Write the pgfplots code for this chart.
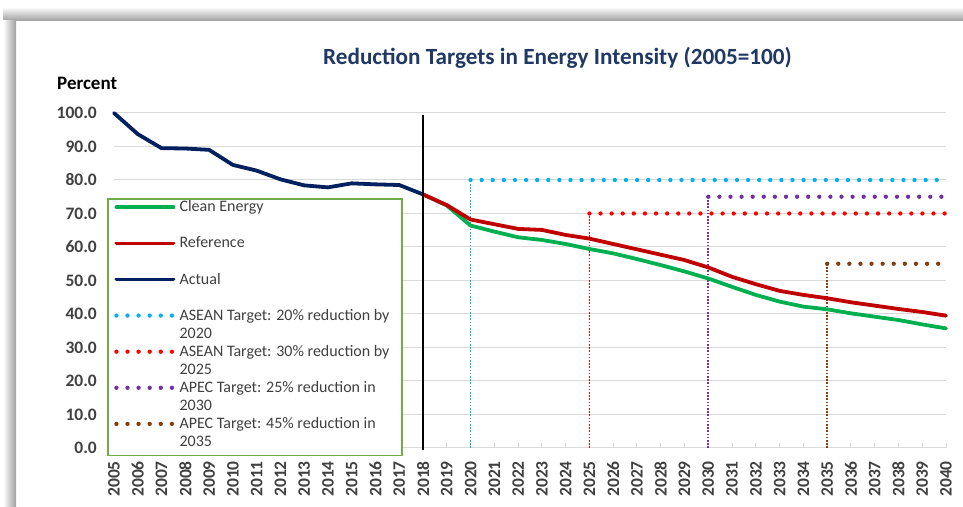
\documentclass[border=0pt]{standalone}
\usepackage{pgfplots}
\pgfplotsset{compat=1.18}
\usepackage{fontspec}
\setmainfont{Carlito}
\definecolor{cgreen}{HTML}{00B050}
\definecolor{cred}{HTML}{C00000}
\definecolor{cnavy}{HTML}{002060}
\definecolor{cblue}{HTML}{00B0F0}
\definecolor{cdred}{HTML}{FF0000}
\definecolor{cpurple}{HTML}{7030A0}
\definecolor{cbrown}{HTML}{843C0C}
\definecolor{cgrid}{HTML}{D9D9D9}
\definecolor{ctxt}{HTML}{404040}
\definecolor{cttl}{HTML}{1F3864}
\definecolor{clgb}{HTML}{70AD47}
\tikzset{
 mainline/.style={line width=3.8bp, line join=round, line cap=round},
 tgt/.style={line width=4.3bp, line cap=round, dash pattern=on 0bp off 11.1bp},
 vtgt/.style={line width=1.6bp, dash pattern=on 1.6bp off 1.6bp},
}
\newcommand{\lent}[2]{\parbox[t]{216bp}{\mbox{#1}\\\mbox{#2}}}
\pgfplotstableread{
year actual
2005 100.0
2006 93.7
2007 89.5
2008 89.4
2009 89.0
2010 84.5
2011 82.8
2012 80.2
2013 78.4
2014 77.8
2015 79.0
2016 78.7
2017 78.5
2018 75.7
}\actual
\pgfplotstableread{
year ref clean
2018 75.7 75.7
2019 72.5 72.4
2020 68.2 66.4
2021 66.8 64.6
2022 65.4 62.9
2023 65.1 62.1
2024 63.6 60.9
2025 62.5 59.4
2026 60.9 58.1
2027 59.3 56.4
2028 57.7 54.6
2029 56.1 52.7
2030 53.9 50.6
2031 51.1 48.1
2032 48.9 45.7
2033 46.9 43.7
2034 45.7 42.2
2035 44.7 41.4
2036 43.5 40.2
2037 42.5 39.2
2038 41.5 38.2
2039 40.6 36.9
2040 39.5 35.7
}\proj
\begin{document}
\begin{tikzpicture}
\useasboundingbox (0,0) rectangle (963bp,507bp);
\shade[top color=white, bottom color=black!38] (3bp,486bp) rectangle (963bp,500bp);
\shade[left color=white, right color=black!38] (3bp,0bp) rectangle (16bp,486bp);
\begin{axis}[
  at={(114bp,59bp)}, anchor=south west,
  scale only axis, width=832bp, height=335bp,
  xmin=2005, xmax=2040, ymin=0, ymax=100,
  xtick={2005,2006,...,2040}, ytick={0,10,...,100},
  axis x line*=bottom, axis y line*=left,
  x axis line style={-, draw=cgrid, line width=1bp},
  y axis line style={draw=none},
  ymajorgrids, major grid style={draw=cgrid, line width=1bp},
  ytick style={draw=none},
  xtick style={draw=cgrid, line width=1bp},
  tick align=inside, major tick length=5bp,
  /pgf/number format/assume math mode=true,
  yticklabel={\pgfmathprintnumber[fixed,fixed zerofill,precision=1]{\tick}},
  yticklabel style={font=\fontsize{17.5bp}{20bp}\selectfont\bfseries, text=ctxt, inner sep=0pt, anchor=east, xshift=-17bp},
  xticklabel style={font=\fontsize{17.5bp}{20bp}\selectfont\bfseries, text=ctxt, inner sep=0pt, yshift=-13bp, rotate=90, anchor=east, /pgf/number format/1000 sep={}},
  legend image code/.code={\draw[#1] (0bp,11.5bp) -- (57bp,11.5bp);},
  legend cell align=left,
  legend style={at={(rel axis cs:-0.0084,0.746)}, anchor=north west,
    draw=clgb, line width=1.5bp, fill=white, text=ctxt,
    inner xsep=6.5bp, inner ysep=2bp, row sep=0bp,
    nodes={inner sep=0bp, text depth=25bp},
    font=\fontsize{16bp}{18bp}\selectfont,
    /tikz/every odd column/.append style={column sep=4bp}},
  clip=false,
]
% vertical target markers
\addplot[vtgt, cblue, forget plot] coordinates {(2020,0) (2020,80)};
\addplot[vtgt, cdred, forget plot] coordinates {(2025,0) (2025,70)};
\addplot[vtgt, cpurple, forget plot] coordinates {(2030,0) (2030,75)};
\addplot[vtgt, cbrown, forget plot] coordinates {(2035,0) (2035,55)};
% targets
\addplot[tgt, cblue, forget plot] coordinates {(2020,80) (2040,80)};
\addplot[tgt, cdred, forget plot] coordinates {(2025,70) (2040,70)};
\addplot[tgt, cpurple, forget plot] coordinates {(2030,75) (2040,75)};
\addplot[tgt, cbrown, forget plot] coordinates {(2035,55) (2040,55)};
% main lines
\addplot[mainline, cnavy, forget plot] table[x=year, y=actual] {\actual};
\addplot[mainline, cgreen, forget plot] table[x=year, y=clean] {\proj};
\addplot[mainline, cred, forget plot] table[x=year, y=ref] {\proj};
% 2018 divider
\addplot[black, line width=2bp, forget plot] coordinates {(2018,-0.5) (2018,99.4)};
% legend
\addlegendimage{mainline, cgreen}
\addlegendentry{\lent{Clean Energy}{}}
\addlegendimage{mainline, cred}
\addlegendentry{\lent{Reference}{}}
\addlegendimage{mainline, cnavy}
\addlegendentry{\lent{Actual}{}}
\addlegendimage{tgt, cblue}
\addlegendentry{\lent{ASEAN Target: 20\% reduction by}{2020}}
\addlegendimage{tgt, cdred}
\addlegendentry{\lent{ASEAN Target: 30\% reduction by}{2025}}
\addlegendimage{tgt, cpurple}
\addlegendentry{\lent{APEC Target: 25\% reduction in}{2030}}
\addlegendimage{tgt, cbrown}
\addlegendentry{\lent{APEC Target: 45\% reduction in}{2035}}
\node[anchor=base west, inner sep=0pt, font=\fontsize{19bp}{20bp}\selectfont\bfseries, text=black] at (rel axis cs:-0.0685,1.0687) {Percent};
\node[anchor=base, inner sep=0pt, font=\fontsize{23.2bp}{26bp}\selectfont\bfseries, text=cttl] at (rel axis cs:0.533,1.146) {Reduction Targets in Energy Intensity (2005=100)};
\end{axis}
\end{tikzpicture}
\end{document}
